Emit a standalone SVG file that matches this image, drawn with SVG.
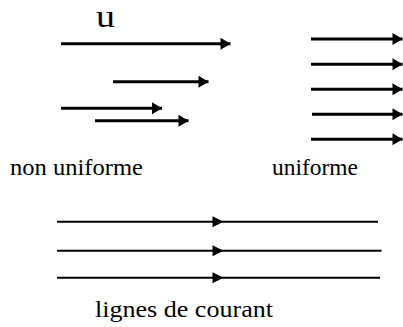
<svg xmlns="http://www.w3.org/2000/svg" width="403" height="327" viewBox="0 0 403 327">
<defs>
<style>
.a{stroke:#000;stroke-width:3;fill:none;marker-end:url(#h)}
.s{stroke:#000;stroke-width:2;fill:none;marker-mid:url(#m)}
text{font-family:'Liberation Serif','DejaVu Serif','Times New Roman',serif;font-size:23px;fill:#000}
</style>
<marker id="h" markerUnits="userSpaceOnUse" markerWidth="10" markerHeight="12" refX="10" refY="6" orient="auto" overflow="visible">
<path d="M0,0 L10,6 L0,12 Z" fill="#000"/>
</marker>
<marker id="m" markerUnits="userSpaceOnUse" markerWidth="11" markerHeight="11" refX="11" refY="5.5" orient="auto" overflow="visible">
<path d="M0,0 L11,5.5 L0,11 Z" fill="#000"/>
</marker>
</defs>
<rect width="403" height="327" fill="#fff"/>
<g id="connectors">
<line class="a" x1="61" y1="43.7" x2="230.5" y2="43.7"/>
<line class="a" x1="113" y1="81.7" x2="208.5" y2="81.7"/>
<line class="a" x1="61" y1="108.3" x2="162" y2="108.3"/>
<line class="a" x1="95" y1="120.7" x2="188.5" y2="120.7"/>
<line class="a" x1="311" y1="39" x2="402.5" y2="39"/>
<line class="a" x1="311" y1="64.3" x2="402.5" y2="64.3"/>
<line class="a" x1="311" y1="89.3" x2="402.5" y2="89.3"/>
<line class="a" x1="312" y1="114.3" x2="402.5" y2="114.3"/>
<line class="a" x1="311" y1="139.3" x2="402.5" y2="139.3"/>
<polyline class="s" points="57,221.7 223.5,221.7 378,221.7"/>
<polyline class="s" points="57,250.7 223.5,250.7 381.5,250.7"/>
<polyline class="s" points="57,277.7 223.5,277.7 380,277.7"/>
</g>
<g id="label-u"><text x="96" y="27" style="font-size:31px" textLength="19" lengthAdjust="spacingAndGlyphs">u</text></g>
<g id="label-non-uniforme"><text x="10" y="175" textLength="133" lengthAdjust="spacingAndGlyphs">non uniforme</text></g>
<g id="label-uniforme"><text x="272" y="175" textLength="86" lengthAdjust="spacingAndGlyphs">uniforme</text></g>
<g id="label-lignes"><text x="95" y="317" textLength="178" lengthAdjust="spacingAndGlyphs">lignes de courant</text></g>
</svg>
